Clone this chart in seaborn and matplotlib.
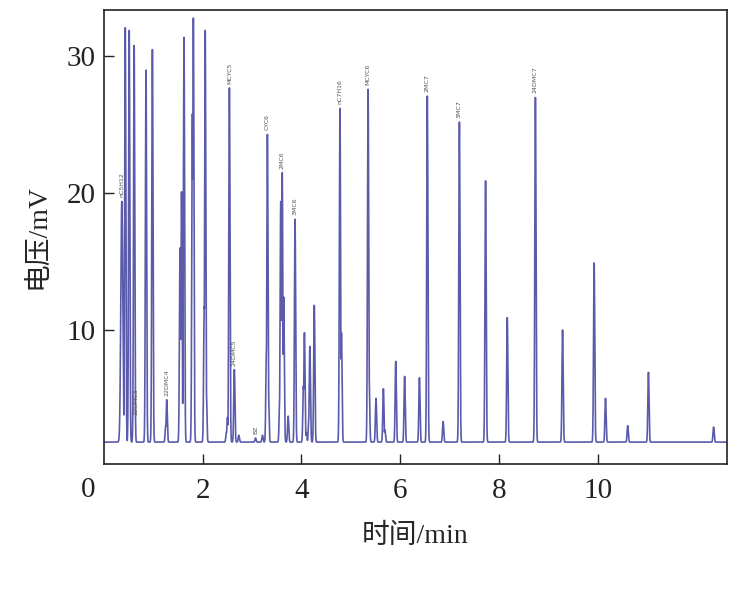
import numpy as np
import pandas as pd
import seaborn as sns
import matplotlib.pyplot as plt

# peak retention times (min) and apex heights (mV)
peak_times = [0.36, 0.43, 0.51, 0.61, 0.85, 0.98, 1.25, 1.27, 1.54, 1.57, 1.62,
              1.79, 1.81, 2.03, 2.05, 2.07, 2.48, 2.50, 2.54, 2.64, 2.73, 3.07,
              3.21, 3.29, 3.31, 3.33, 3.56, 3.58, 3.61, 3.64, 3.73, 3.87, 4.04,
              4.06, 4.10, 4.15, 4.17, 4.26, 4.78, 4.81, 5.35, 5.37, 5.51, 5.66,
              5.69, 5.91, 6.09, 6.39, 6.55, 6.87, 7.20, 7.73, 8.17, 8.74, 9.29,
              9.93, 10.16, 10.61, 11.03, 12.35]
peak_heights = [19.4, 32.1, 31.9, 30.8, 29.0, 30.5, 3.0, 4.9, 16.0, 20.1, 31.4,
                25.8, 32.8, 11.7, 31.9, 5.9, 2.5, 3.6, 27.7, 7.1, 2.3, 2.1,
                2.3, 8.5, 24.3, 5.6, 5.0, 19.4, 21.5, 12.4, 3.7, 18.1, 5.9,
                9.8, 2.5, 3.6, 8.8, 11.8, 26.2, 9.8, 27.6, 6.7, 5.0, 5.7,
                2.7, 7.7, 6.6, 6.5, 27.1, 3.3, 25.2, 20.9, 10.9, 27.0, 10.0,
                14.9, 5.0, 3.0, 6.9, 2.9]
baseline = 1.8

# labelled compounds
label_names = ["nC5H12", "22DMC3", "22DMC4", "MCYC5", "24DMC5", "BZ", "CYC6",
               "2MC6", "3MC6", "nC7H16", "MCYC6", "2MC7", "3MC7", "24DMC7"]
label_times = [0.36, 0.64, 1.27, 2.54, 2.64, 3.07, 3.31, 3.61, 3.87, 4.78, 5.35,
               6.55, 7.20, 8.74]
label_heights = [19.4, 3.5, 4.9, 27.7, 7.1, 2.1, 24.3, 21.5, 18.1, 26.2, 27.6,
                 27.1, 25.2, 27.0]

# detector trace: narrow peaks on a flat baseline (overlaps take the larger one)
t = np.arange(0, 12.62, 0.002)
signal = np.zeros_like(t)
for pt, ph in zip(peak_times, peak_heights):
    w = 0.02 if pt < 0.4 else 0.012
    signal = np.maximum(signal, (ph - baseline) * np.exp(-0.5 * ((t - pt) / w) ** 2))
df = pd.DataFrame({"time": t, "voltage": signal + baseline})

sns.set_style("ticks")
plt.rcParams['font.family'] = ['Liberation Serif', 'Noto Sans CJK SC', 'DejaVu Sans']

fig = plt.figure(figsize=(7.41, 6.16), dpi=100)
ax = fig.add_axes([0.1404, 0.2468, 0.8406, 0.737])

sns.lineplot(data=df, x="time", y="voltage", ax=ax, color="#5b5bab",
             linewidth=1.2, estimator=None, sort=False)

for name, lt, lh in zip(label_names, label_times, label_heights):
    ax.text(lt, lh + 0.3, name, rotation=90, ha="center", va="bottom",
            fontsize=4.5, color="#555555", family="DejaVu Sans")

ax.set_xlim(0, 12.62)
ax.set_ylim(0.2, 33.4)
ax.set_xticks([2, 4, 6, 8, 10])
ax.set_yticks([10, 20, 30])
ax.tick_params(direction="in", length=7, width=1, labelsize=21, colors="#222222")
ax.tick_params(axis="x", pad=10)
ax.tick_params(axis="y", pad=6)
for s in ax.spines.values():
    s.set_visible(True)
    s.set_linewidth(1.2)
    s.set_color("#222222")

ax.set_xlabel("时间/min", fontsize=20, labelpad=14)
ax.set_ylabel("电压/mV", fontsize=20, labelpad=12)
fig.text(88 / 741, 1 - 490 / 616, "0", fontsize=21, ha="center", va="center",
         color="#222222")

fig.savefig("out.png", dpi=100)
